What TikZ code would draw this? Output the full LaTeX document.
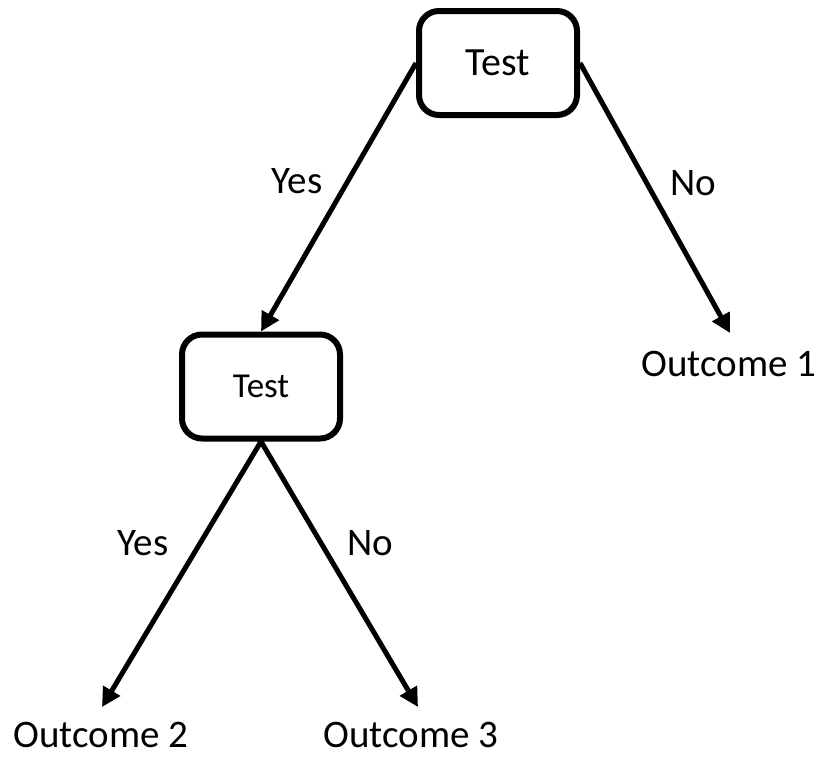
\documentclass[tikz,border=0pt]{standalone}
\usepackage{fontspec}
\setmainfont{Carlito}
\usetikzlibrary{arrows.meta}
\begin{document}
\begin{tikzpicture}[x=1pt,y=-1pt,
  testbox/.style={draw=black,line width=6pt,rounded corners=20pt,minimum width=158pt,minimum height=104pt,inner sep=0pt,fill=white},
  lbl/.style={font=\fontsize{39}{43}\selectfont,inner sep=0pt},
  conn/.style={line width=5pt,-{Triangle[length=19pt,width=19pt]}}]
\useasboundingbox (0,0) rectangle (818,758);
\node[testbox,font=\fontsize{40}{44}\selectfont] (t1) at (498,63) {Test};
\node[testbox,font=\fontsize{35}{39}\selectfont] (t2) at (261,386.5) {Test};
\node[lbl] (o1) at (729,364) {Outcome 1};
\node[lbl] (o2) at (101,735) {Outcome 2};
\node[lbl] (o3) at (411,735) {Outcome 3};
\coordinate (e1) at (730,333);
\coordinate (e2) at (102,707);
\coordinate (e3) at (418,707);
\draw[conn] (t1.west) -- (t2.north);
\draw[conn] (t1.east) -- (e1);
\draw[conn] (t2.south) -- (e2);
\draw[conn] (t2.south) -- (e3);
\node[lbl] (y1) at (297,181) {Yes};
\node[lbl] (n1) at (693,183) {No};
\node[lbl] (y2) at (143,543) {Yes};
\node[lbl] (n2) at (370,543) {No};
\end{tikzpicture}
\end{document}
